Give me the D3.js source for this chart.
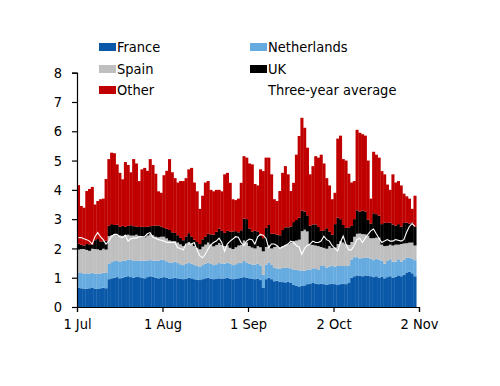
<!DOCTYPE html>
<html><head><meta charset="utf-8">
<script src="https://cdn.jsdelivr.net/npm/d3@7"></script>
<style>
html,body{margin:0;padding:0;background:#fff;}
svg text{font-family:"DejaVu Sans Condensed","DejaVu Sans",sans-serif;font-stretch:condensed;}
</style></head>
<body><div id="chart"></div>
<script>
// Days from 1 Jul (index 0) to 31 Oct (index 122)
const france = [0.66,0.64,0.63,0.62,0.64,0.65,0.63,0.62,0.64,0.66,0.64,
0.95,0.98,1.0,1.02,0.98,1.0,1.03,1.05,1.02,1.0,1.04,1.02,1.0,0.98,1.02,1.05,1.03,1.0,0.98,1.0,1.02,1.0,0.97,0.98,1.0,
0.98,0.96,0.95,0.97,1.0,0.98,0.95,0.93,0.92,0.95,0.98,1.0,0.97,0.95,0.96,0.98,0.97,
0.98,1.0,0.97,0.95,0.96,0.98,1.0,1.02,1.0,0.98,0.97,0.95,0.96,0.92,0.65,0.95,1.0,0.95,
0.88,0.9,0.86,0.85,0.84,0.86,0.82,0.75,0.72,0.7,0.72,0.74,0.78,0.8,0.82,0.8,0.78,
0.8,0.78,0.76,0.78,0.8,0.78,0.75,0.78,0.8,0.78,0.82,1.0,1.05,1.08,1.06,1.05,1.08,1.06,1.05,
1.02,1.05,1.0,1.03,0.98,1.02,1.05,1.0,1.03,1.08,1.05,1.1,1.18,1.2,1.15,1.05];
const netherlands = [0.5,0.52,0.5,0.53,0.5,0.52,0.5,0.52,0.5,0.51,0.52,
0.52,0.55,0.58,0.55,0.56,0.58,0.55,0.57,0.6,0.58,0.55,0.56,0.58,0.6,0.57,0.55,0.56,0.58,0.6,0.62,0.58,0.56,0.55,0.54,0.55,
0.52,0.5,0.48,0.5,0.52,0.5,0.48,0.47,0.45,0.48,0.5,0.52,0.5,0.48,0.5,0.52,0.5,
0.5,0.52,0.5,0.48,0.5,0.52,0.5,0.55,0.52,0.5,0.48,0.5,0.52,0.5,0.45,0.5,0.52,0.5,
0.45,0.42,0.45,0.48,0.5,0.48,0.5,0.52,0.55,0.55,0.52,0.5,0.5,0.48,0.5,0.52,0.5,
0.6,0.62,0.58,0.6,0.62,0.6,0.65,0.62,0.6,0.62,0.6,0.62,0.65,0.62,0.6,0.62,0.6,0.62,0.6,
0.58,0.6,0.62,0.55,0.5,0.55,0.58,0.55,0.52,0.55,0.5,0.52,0.5,0.48,0.5,0.55];
const spain = [0.8,0.82,0.85,0.8,0.78,0.82,0.85,0.83,0.8,0.82,0.8,
0.95,0.92,0.9,0.88,0.9,0.85,0.88,0.85,0.82,0.86,0.88,0.85,0.83,0.8,0.85,0.88,0.86,0.82,0.8,0.78,0.8,0.78,0.75,0.73,0.7,
0.7,0.68,0.65,0.66,0.7,0.68,0.65,0.62,0.6,0.63,0.65,0.68,0.66,0.64,0.66,0.68,0.65,
0.6,0.58,0.55,0.55,0.58,0.6,0.62,0.7,0.68,0.6,0.58,0.55,0.6,0.62,0.8,0.6,0.58,0.55,
0.72,0.75,0.72,0.75,0.78,0.8,0.88,0.98,1.0,1.05,1.35,1.4,1.3,0.85,0.8,0.78,0.8,
0.65,0.62,0.65,0.7,0.6,0.65,0.75,0.85,0.8,0.75,0.7,0.6,0.7,0.8,0.85,0.82,0.8,0.75,0.7,
0.75,0.72,0.75,0.55,0.6,0.52,0.5,0.55,0.58,0.5,0.6,0.55,0.5,0.52,0.55,0.5];
const uk = [0.2,0.15,0.12,0.2,0.22,0.15,0.3,0.35,0.3,0.25,0.3,
0.35,0.38,0.32,0.36,0.3,0.34,0.28,0.3,0.35,0.32,0.28,0.3,0.33,0.35,0.3,0.28,0.32,0.38,0.4,0.35,0.3,0.33,0.36,0.3,0.28,
0.25,0.22,0.2,0.28,0.3,0.25,0.22,0.2,0.18,0.25,0.28,0.3,0.35,0.4,0.45,0.5,0.48,
0.45,0.5,0.55,0.6,0.55,0.45,0.5,0.75,0.8,0.6,0.55,0.6,0.5,0.4,0.45,0.65,0.7,0.5,
0.45,0.4,0.42,0.55,0.6,0.58,0.55,0.65,0.7,0.75,0.7,0.62,0.55,0.65,0.7,0.72,0.65,
0.55,0.6,0.7,0.5,0.45,0.8,0.9,0.75,0.6,0.55,0.6,0.55,0.6,0.8,0.75,0.8,0.78,0.55,0.5,
0.85,0.8,0.75,0.7,0.8,0.78,0.75,0.72,0.65,0.7,0.6,0.7,0.7,0.65,0.68,0.65];
const other = [2.0,1.32,1.29,1.81,1.89,1.96,1.22,1.3,1.44,1.46,2.11,
2.28,2.44,2.45,2.06,1.84,1.59,2.21,2.08,1.81,2.29,2.15,1.57,1.96,2.02,1.91,2.29,2.08,1.77,1.17,1.15,1.8,1.98,2.42,2.05,1.87,
1.8,1.94,2.02,1.99,2.18,2.34,1.95,1.73,1.2,1.49,1.84,1.8,1.52,1.48,1.43,1.32,1.35,
2.0,1.98,1.67,1.1,1.06,1.15,1.62,2.13,2.1,2.22,2.29,1.6,1.57,2.26,2.29,2.4,2.3,2.03,
1.18,1.15,1.51,1.95,2.09,1.81,1.21,1.34,2.23,2.79,3.17,2.86,2.31,1.75,1.99,2.33,2.37,
2.6,2.28,1.71,1.57,1.21,1.07,2.7,2.85,2.25,2.3,1.83,1.48,1.3,2.75,2.69,2.61,2.59,2.02,0.85,
2.1,2.03,1.98,1.81,1.65,1.31,1.12,1.71,1.47,1.47,1.4,1.0,0.9,0.85,0.47,1.05];
const threeYearAverage = [2.37,2.37,2.33,2.3,2.25,2.15,2.4,2.54,2.4,2.3,2.15,2.25,2.4,2.48,2.48,2.4,2.37,2.45,
2.25,2.33,2.35,2.35,2.4,2.4,2.4,2.5,2.54,2.38,2.35,2.3,2.28,2.25,2.2,2.2,2.2,
2.2,2.02,2.0,1.95,2.15,2.15,2.15,2.2,1.95,1.75,1.68,1.8,1.98,2.12,2.2,2.25,2.35,2.2,
1.9,2.15,2.25,2.32,2.4,2.38,2.2,2.1,2.25,2.32,2.3,2.15,2.4,2.48,2.45,2.35,2.02,2.15,
2.15,2.1,2.0,2.05,2.1,2.15,2.25,2.2,2.1,2.05,1.8,2.0,2.1,2.15,2.25,2.2,2.2,
2.25,2.42,2.3,2.25,2.1,2.0,1.91,2.2,2.42,2.15,1.95,1.95,2.1,2.3,2.35,2.2,2.35,2.48,
2.6,2.66,2.5,2.35,2.2,2.25,2.3,2.25,2.25,2.3,2.28,2.25,2.3,2.55,2.75,2.85,2.75];
const seriesNames = ["France","Netherlands","Spain","UK","Other"];
const seriesColors = ["#0a58a8","#66abe0","#bfbfbf","#000000","#c00000"];
const xTickDates = ["2021-07-01","2021-08-01","2021-09-01","2021-10-02","2021-11-02"];
const xTickLabels = ["1 Jul","1 Aug","1 Sep","2 Oct","2 Nov"];
const yTicks = [0,1,2,3,4,5,6,7,8];
const startDate = "2021-07-01";

const W=500,H=386;
const svg=d3.select("#chart").append("svg").attr("width",W).attr("height",H);
const parse=d3.utcParse("%Y-%m-%d");
const t0=parse(startDate);
const dates=france.map((_,i)=>d3.utcDay.offset(t0,i));
const x=d3.scaleUtc().domain([t0,parse(xTickDates[xTickDates.length-1])]).range([77,419]);
const y=d3.scaleLinear().domain([0,8]).range([307,72.7]);

const rows=dates.map((d,i)=>({date:d,France:france[i],Netherlands:netherlands[i],Spain:spain[i],UK:uk[i],Other:other[i]}));
const stacked=d3.stack().keys(seriesNames)(rows);

const g=svg.append("g");
stacked.forEach((s,k)=>{
  g.append("g").attr("fill",seriesColors[k]).selectAll("rect").data(s).join("rect")
   .attr("x",d=>x(d.data.date))
   .attr("width",d=>x(d3.utcDay.offset(d.data.date,1))-x(d.data.date)+0.3)
   .attr("y",d=>y(d[1]))
   .attr("height",d=>y(d[0])-y(d[1]));
});

const line=d3.line().x((d,i)=>x(dates[i])+ (x(d3.utcDay.offset(dates[i],1))-x(dates[i]))/2).y(d=>y(d));
svg.append("path").datum(threeYearAverage).attr("d",line).attr("fill","none").attr("stroke","#fff").attr("stroke-width",1.1);

const yAxis=svg.append("g").attr("transform","translate(77,0)")
  .call(d3.axisLeft(y).tickValues(yTicks).tickFormat(d3.format("d")).tickSize(5).tickPadding(10));
const xAxis=svg.append("g").attr("transform","translate(0,307)")
  .call(d3.axisBottom(x).tickValues(xTickDates.map(parse)).tickFormat((d,i)=>xTickLabels[i]).tickSize(5).tickPadding(7));
[yAxis,xAxis].forEach(a=>{
  a.selectAll("path").attr("stroke","#000").attr("stroke-width",1.2);
  a.selectAll("line").attr("stroke","#000").attr("stroke-width",1.2);
  a.selectAll("text").attr("fill","#000").style("font-size","14.5px");
});

// Legend
const legendItems=[
 {name:"France",color:seriesColors[0],x:99,y:47,type:"rect"},
 {name:"Netherlands",color:seriesColors[1],x:250,y:47,type:"rect"},
 {name:"Spain",color:seriesColors[2],x:99,y:69,type:"rect"},
 {name:"UK",color:seriesColors[3],x:250,y:69,type:"rect"},
 {name:"Other",color:seriesColors[4],x:99,y:90,type:"rect"},
 {name:"Three-year average",color:"#fff",x:250,y:90,type:"line"}
];
const lg=svg.append("g");
legendItems.forEach(it=>{
  if(it.type==="rect") lg.append("rect").attr("x",it.x).attr("y",it.y-4).attr("width",17).attr("height",8).attr("fill",it.color);
  else lg.append("line").attr("x1",it.x).attr("x2",it.x+17).attr("y1",it.y).attr("y2",it.y).attr("stroke",it.color).attr("stroke-width",1.5);
  lg.append("text").attr("x",it.x+18).attr("y",it.y).attr("dy","0.36em").style("font-size","14.5px").attr("fill","#000").text(it.name);
});
</script></body></html>
